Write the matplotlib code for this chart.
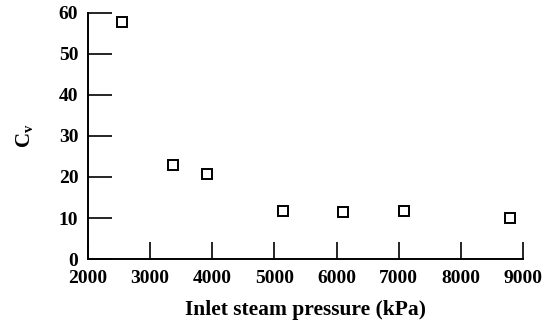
#!/usr/bin/env python3
"""Cv versus inlet steam pressure, open square markers."""

import matplotlib

matplotlib.use("Agg")
import matplotlib.pyplot as plt

pressure_kpa = [2550, 3370, 3910, 5145, 6095, 7090, 8785]
cv_values = [57.7, 22.9, 20.8, 11.8, 11.5, 11.7, 10.1]

x_ticks = [2000, 3000, 4000, 5000, 6000, 7000, 8000, 9000]
y_ticks = [0, 10, 20, 30, 40, 50, 60]

plt.rcParams["font.family"] = ["Liberation Serif", "DejaVu Serif"]
plt.rcParams["font.weight"] = "bold"

fig = plt.figure(figsize=(5.5, 3.3), dpi=100)
ax = fig.add_axes([0.16, 0.215, 0.791, 0.746])

ax.plot(
    pressure_kpa,
    cv_values,
    linestyle="none",
    marker="s",
    markersize=7,
    markerfacecolor="white",
    markeredgecolor="black",
    markeredgewidth=1.4,
    clip_on=False,
)

ax.set_xlim(2000, 9000)
ax.set_ylim(0, 60)
ax.set_xticks(x_ticks)
ax.set_yticks(y_ticks)
ax.tick_params(axis="x", direction="in", length=12, width=1.2, labelsize=14, pad=8)
ax.tick_params(axis="y", direction="in", length=17, width=1.2, labelsize=14, pad=7)

for side in ("top", "right"):
    ax.spines[side].set_visible(False)
for side in ("left", "bottom"):
    ax.spines[side].set_linewidth(1.4)

ax.set_xlabel("Inlet steam pressure (kPa)", fontsize=15.5, fontweight="bold", labelpad=9)
ax.set_ylabel(r"C$_\mathregular{v}$", fontsize=15, fontweight="bold", labelpad=16)

fig.savefig("out.png", dpi=100)
plt.close(fig)
